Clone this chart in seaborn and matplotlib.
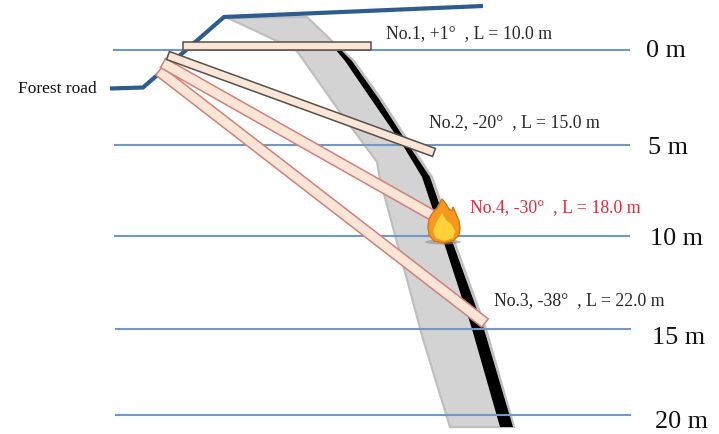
import numpy as np
import pandas as pd
import seaborn as sns
from matplotlib import pyplot as plt
from matplotlib.patches import Ellipse

# everything is measured in picture pixels, y pointing down
depth_labels = ["0 m", "5 m", "10 m", "15 m", "20 m"]
depth_y = [50.5, 145.5, 236.5, 329.5, 415.5]
depth_x0 = [113, 114, 114, 115, 115]
depth_x1 = [630, 630, 630, 631, 631]
depth_label_x = [646, 648, 650, 652, 655]
depth_label_y = [51, 148, 239, 338, 422]

road_x = [110, 143, 224, 483]
road_y = [89.5, 88.5, 18, 7]

slope_x = [228, 307, 333, 354, 381, 410, 432, 457, 486, 514, 450, 423, 405, 380, 377, 340, 297, 277]
slope_y = [19, 18, 43, 62, 100, 145, 178, 250, 330, 428, 428, 340, 273, 180, 163, 113, 52, 42]

black_x = [340, 352, 379, 408, 430, 455, 484, 513, 500, 472, 446, 422, 402, 371, 345, 335]
black_y = [50, 62, 100, 145, 178, 250, 330, 428, 428, 330, 250, 178, 145, 100, 62, 50]

beam_names = ["No.3", "No.4", "No.2", "No.1"]
beam_x0 = [159, 163, 168, 183]
beam_y0 = [72, 64, 56.5, 47]
beam_x1 = [485, 432, 434, 371]
beam_y1 = [324, 216, 153.5, 47]
beam_width = [10.5, 10.5, 8.5, 8]
beam_edge = ["#d08078", "#d08078", "#55504a", "#5a5040"]
beam_face = "#fbe5d6"

label_text = ["No.1, +1°  , L = 10.0 m", "No.2, -20°  , L = 15.0 m",
              "No.4, -30°  , L = 18.0 m", "No.3, -38°  , L = 22.0 m"]
label_x = [386, 429, 470, 494]
label_y = [34, 123, 208, 301]
label_color = ["#262626", "#262626", "#e8283c", "#262626"]

flame_x = [443, 434, 429, 428, 429, 432, 434, 437, 442, 446, 449, 452, 453, 456, 459, 460, 459, 453, 443]
flame_y = [244, 242, 236, 228, 220, 215, 212, 209, 200, 205, 210, 212, 208, 215, 222, 229, 236, 242, 244]
inner_x = [444, 436, 433, 436, 442, 446, 451, 455, 453, 444]
inner_y = [242, 239, 232, 224, 214, 221, 225, 232, 239, 242]

sns.set_theme(style="white")
plt.rcParams["font.family"] = ["Liberation Serif", "DejaVu Serif"]

fig, ax = plt.subplots(figsize=(7.19, 4.35), dpi=100)
ax.set_position([0, 0, 1, 1])


def draw_line(xs, ys, color, lw, z, cap="butt"):
    df = pd.DataFrame({"x": xs, "y": ys})
    sns.lineplot(data=df, x="x", y="y", sort=False, estimator=None, color=color,
                 linewidth=lw, ax=ax, zorder=z, solid_capstyle=cap, solid_joinstyle="miter")


ax.fill(slope_x, slope_y, facecolor="#d3d3d3", edgecolor="#bfbfbf", linewidth=1.6, zorder=1)
ax.fill(black_x, black_y, facecolor="black", edgecolor="none", zorder=2)
draw_line(road_x, road_y, "#2f5b8f", 3, 3)

for y, x0, x1 in zip(depth_y, depth_x0, depth_x1):
    draw_line([x0, x1], [y, y], "#6f97c9", 1.5, 4)

# beams: a long thin box around the line from the head to the tip
for x0, y0, x1, y1, w, edge in zip(beam_x0, beam_y0, beam_x1, beam_y1, beam_width, beam_edge):
    d = np.array([x1 - x0, y1 - y0], dtype=float)
    n = np.array([-d[1], d[0]]) / np.hypot(*d) * w / 2
    box = np.array([[x0, y0] + n, [x1, y1] + n, [x1, y1] - n, [x0, y0] - n])
    ax.fill(box[:, 0], box[:, 1], facecolor=beam_face, edgecolor=edge, linewidth=1.1, zorder=5)

ax.add_patch(Ellipse((443, 243), 36, 5, facecolor="#8f8f8f", alpha=0.6, edgecolor="none", zorder=6))
ax.fill(flame_x, flame_y, facecolor="#f39a1e", edgecolor="#d9701a", linewidth=1, zorder=7)
ax.fill(inner_x, inner_y, facecolor="#ffd23c", edgecolor="none", zorder=8)

for txt, x, y, c in zip(label_text, label_x, label_y, label_color):
    ax.text(x, y, txt, color=c, fontsize=12.8, ha="left", va="center", zorder=9)

for txt, x, y in zip(depth_labels, depth_label_x, depth_label_y):
    ax.text(x, y, txt, color="#111111", fontsize=18.8, ha="left", va="center", zorder=9)

ax.text(18, 89, "Forest road", color="#111111", fontsize=12.5, ha="left", va="center", zorder=9)

ax.set_xlim(0, 719)
ax.set_ylim(435, 0)
ax.axis("off")
fig.savefig("out.png", dpi=100)
